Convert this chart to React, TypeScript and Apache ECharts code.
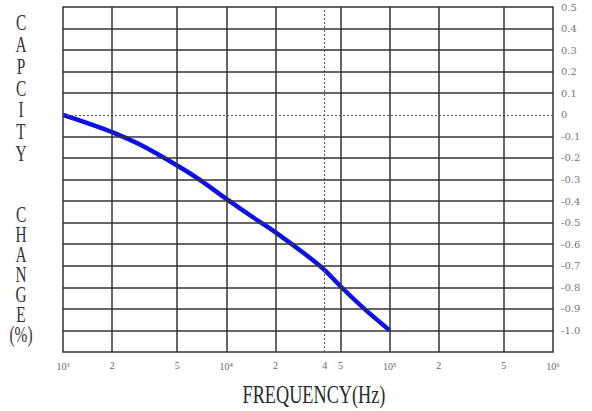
import React, { useEffect, useRef } from "react";
import * as echarts from "echarts";

// Curve (frequency in Hz, capacity change in %)
const freqs = [1000, 1500, 2000, 3000, 5000, 7000, 10000, 15000, 20000, 30000, 40000, 50000, 70000, 100000];
const capChange = [0, -0.045, -0.08, -0.14, -0.235, -0.305, -0.39, -0.482, -0.545, -0.643, -0.72, -0.795, -0.9, -1.0];

// Vertical grid lines (solid) with their small labels
const vGridSolid = [2000, 5000, 10000, 20000, 50000, 100000, 200000, 500000];
const vGridLabels = ["2", "5", "", "2", "5", "", "2", "5"];
// Vertical dashed line
const vGridDashed = [40000];
const vGridDashedLabels = ["4"];
// Horizontal grid lines
const hGridSolid = [-1.0, -0.9, -0.8, -0.7, -0.6, -0.5, -0.4, -0.3, -0.2, -0.1, 0.1, 0.2, 0.3, 0.4];
const hGridDashed = [0];

const yMin = -1.1;
const yMax = 0.5;
const yStep = 0.1;
const xMin = 1000;
const xMax = 1000000;

const sup: Record<number, string> = { 3: "\u00b3", 4: "\u2074", 5: "\u2075", 6: "\u2076" };

const titleLeftTop = ["C", "A", "P", "C", "I", "T", "Y"];
const titleLeftBottom = ["C", "H", "A", "N", "G", "E", "(%)"];
const xTitle = "FREQUENCY(Hz)";

export default function App() {
  const ref = useRef<HTMLDivElement>(null);
  useEffect(() => {
    if (!ref.current) return;
    const chart = echarts.init(ref.current, undefined, { renderer: "svg" });
    const gridColor = "#333";
    const labelColor = "#666";
    const serif = "'Liberation Serif', 'DejaVu Serif', serif";

    const solidLine = { type: "solid", color: gridColor, width: 1.5 };
    const dashedLine = { type: [2, 2], color: "#555", width: 1 };

    const vSolidData = vGridSolid.map((v, i) => ({
      xAxis: v,
      lineStyle: solidLine,
      label: { show: vGridLabels[i] !== "", formatter: vGridLabels[i] || " " },
    }));
    const vDashedData = vGridDashed.map((v, i) => ({
      xAxis: v,
      lineStyle: dashedLine,
      label: { show: true, formatter: vGridDashedLabels[i] },
    }));
    const hSolidData = hGridSolid.map((v) => ({ yAxis: v, lineStyle: solidLine, label: { show: false } }));
    const hDashedData = hGridDashed.map((v) => ({ yAxis: v, lineStyle: dashedLine, label: { show: false } }));

    chart.setOption({
      animation: false,
      backgroundColor: "#ffffff",
      grid: {
        left: 63,
        right: 39,
        top: 7,
        bottom: 59,
        show: true,
        borderColor: gridColor,
        borderWidth: 1.5,
        backgroundColor: "transparent",
      },
      xAxis: {
        type: "log",
        logBase: 10,
        min: xMin,
        max: xMax,
        axisLine: { show: false },
        axisTick: { show: false },
        splitLine: { show: false },
        axisLabel: {
          color: labelColor,
          fontSize: 10,
          fontFamily: serif,
          margin: 9,
          formatter: (v: number) => "10" + (sup[Math.round(Math.log10(v))] || ""),
        },
      },
      yAxis: {
        type: "value",
        position: "right",
        min: yMin,
        max: yMax,
        interval: yStep,
        axisLine: { show: false },
        axisTick: { show: false },
        splitLine: { show: false },
        axisLabel: {
          color: "#777",
          fontSize: 10,
          fontFamily: "'DejaVu Serif', serif",
          margin: 8,
          formatter: (v: number) => {
            if (v < -1.05) return "";
            if (Math.abs(v) < 1e-9) return "0";
            return v.toFixed(1);
          },
        },
      },
      graphic: [
        {
          type: "text",
          x: 21,
          y: 11,
          scaleX: 0.64,
          silent: true,
          style: {
            text: titleLeftTop.join("\n"),
            fontFamily: serif,
            fontSize: 24,
            lineHeight: 21.8,
            fill: "#333",
            textAlign: "center",
            textVerticalAlign: "top",
          },
        },
        {
          type: "text",
          x: 21,
          y: 204,
          scaleX: 0.64,
          silent: true,
          style: {
            text: titleLeftBottom.join("\n"),
            fontFamily: serif,
            fontSize: 24,
            lineHeight: 20,
            fill: "#333",
            textAlign: "center",
            textVerticalAlign: "top",
          },
        },
        {
          type: "text",
          x: 314,
          y: 382,
          scaleX: 0.73,
          silent: true,
          style: {
            text: xTitle,
            fontFamily: serif,
            fontSize: 25,
            fill: "#2a2a2a",
            textAlign: "center",
            textVerticalAlign: "top",
          },
        },
      ],
      series: [
        {
          type: "line",
          data: [],
          z: 1,
          silent: true,
          markLine: {
            silent: true,
            symbol: ["none", "none"],
            animation: false,
            label: {
              position: "start",
              distance: 8,
              color: labelColor,
              fontSize: 10,
              fontFamily: serif,
            },
            data: [...vSolidData, ...vDashedData, ...hSolidData, ...hDashedData],
          },
        },
        {
          type: "line",
          z: 3,
          data: freqs.map((f, i) => [f, capChange[i]]),
          showSymbol: false,
          symbol: "none",
          smooth: 0.2,
          lineStyle: { color: "#0c12e6", width: 4.5 },
        },
      ],
    });
    return () => chart.dispose();
  }, []);
  return (
    <div
      ref={ref}
      style={{ position: "absolute", left: 0, top: 0, width: 592, height: 411 }}
    />
  );
}
